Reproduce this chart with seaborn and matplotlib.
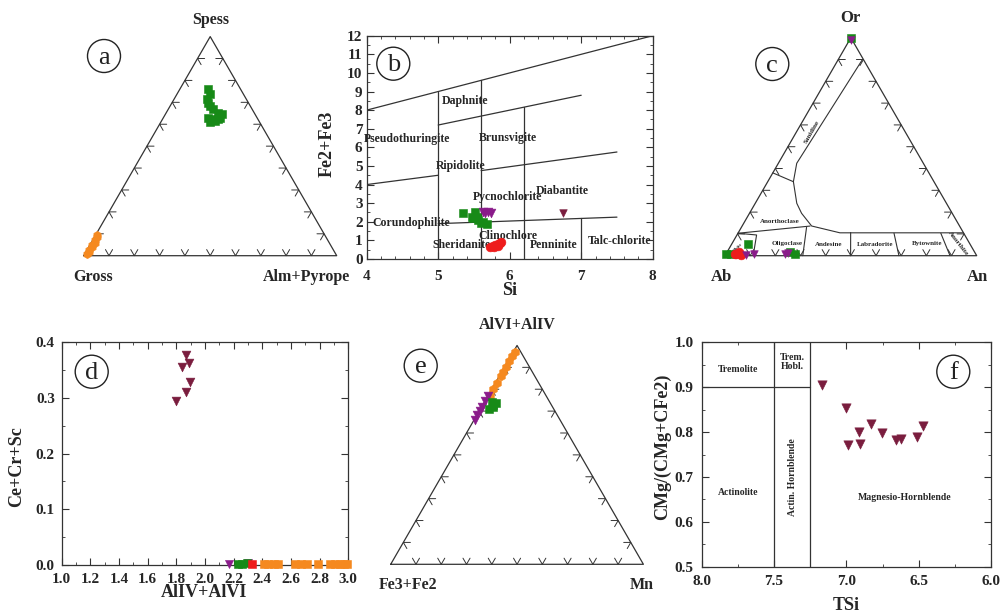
import numpy as np
import matplotlib
matplotlib.use("Agg")
import matplotlib.pyplot as plt
import seaborn as sns
from matplotlib.patches import Ellipse
from matplotlib.ticker import MultipleLocator, FormatStrFormatter

sns.set_theme(style="ticks")
plt.rcParams['font.family'] = ['Liberation Serif', 'DejaVu Serif']
plt.rcParams['font.weight'] = 'bold'
plt.rcParams['axes.edgecolor'] = '#333333'
plt.rcParams['axes.linewidth'] = 0.9

GREEN = "#178a17"
ORANGE = "#f5891f"
RED = "#ee1c1c"
PURPLE = "#8a1b8a"
MAROON = "#7a1d3e"
LINE = "#333333"

# ---------------- data ----------------
# (a) garnet: Spess (top), Alm+Pyrope (right), Gross = remainder
a_green_spess = [0.759, 0.736, 0.714, 0.698, 0.683, 0.668, 0.653, 0.645, 0.630, 0.622, 0.622, 0.610, 0.614, 0.630]
a_green_alm = [0.113, 0.131, 0.129, 0.143, 0.158, 0.178, 0.206, 0.223, 0.178, 0.201, 0.221, 0.194, 0.212, 0.224]
a_orange_spess = [0.095, 0.085, 0.072, 0.060, 0.049, 0.038, 0.026, 0.015, 0.008]
a_orange_alm = [0.004, 0.012, 0.009, 0.015, 0.008, 0.014, 0.009, 0.012, 0.010]

# (b) chlorite Si vs Fe2+Fe3
b_green_si = [5.35, 5.52, 5.49, 5.56, 5.63, 5.68, 5.54, 5.47, 5.60]
b_green_fe = [2.46, 2.54, 2.19, 2.10, 2.00, 1.88, 2.28, 2.28, 1.95]
b_purple_si = [5.62, 5.66, 5.70, 5.74]
b_purple_fe = [2.50, 2.45, 2.50, 2.45]
b_maroon_si = [6.75]
b_maroon_fe = [2.49]
b_red_si = [5.73, 5.76, 5.80, 5.83, 5.86, 5.88, 5.78, 5.84]
b_red_fe = [0.65, 0.70, 0.75, 0.80, 0.85, 0.90, 0.62, 0.70]

# (c) feldspar: Or (top), An (right), Ab = remainder
c_green_or = [1.00, 0.010, 0.010, 0.052, 0.017, 0.010]
c_green_an = [0.000, 0.000, 0.020, 0.064, 0.250, 0.275]
c_red_or = [0.010, 0.005, 0.015, 0.010]
c_red_an = [0.040, 0.060, 0.050, 0.035]
c_purple_or = [0.990, 0.005, 0.010, 0.010, 0.012]
c_purple_an = [0.005, 0.080, 0.110, 0.235, 0.245]

# (d) AlIV+AlVI vs Ce+Cr+Sc
d_maroon_x = [1.80, 1.84, 1.87, 1.89, 1.895, 1.87]
d_maroon_y = [0.295, 0.356, 0.377, 0.362, 0.329, 0.311]
d_purple_x = [2.165, 2.30]
d_purple_y = [0.001, 0.003]
d_green_x = [2.23, 2.26, 2.29]
d_green_y = [0.001, 0.001, 0.004]
d_red_x = [2.33]
d_red_y = [0.001]
d_orange_x = [2.41, 2.44, 2.48, 2.51, 2.63, 2.67, 2.71, 2.79, 2.87, 2.91, 2.94, 2.97, 2.99]
d_orange_y = [0.002] * 13

# (e) AlVI+AlIV (top), Mn (right), Fe3+Fe2 = remainder
e_orange_al = [0.97, 0.95, 0.93, 0.90, 0.88, 0.86, 0.83, 0.80, 0.77]
e_orange_mn = [0.005, 0.006, 0.005, 0.006, 0.005, 0.006, 0.005, 0.005, 0.006]
e_purple_al = [0.77, 0.745, 0.72, 0.70, 0.68, 0.66]
e_purple_mn = [0.002, 0.002, 0.003, 0.002, 0.002, 0.002]
e_green_al = [0.74, 0.73, 0.72, 0.71, 0.735]
e_green_mn = [0.030, 0.040, 0.045, 0.035, 0.050]

# (f) amphibole TSi vs CMg/(CMg+CFe2)
f_tsi = [7.166, 7.005, 6.912, 6.986, 6.905, 6.832, 6.751, 6.657, 6.620, 6.509, 6.468]
f_mg = [0.905, 0.853, 0.801, 0.771, 0.773, 0.819, 0.799, 0.782, 0.784, 0.790, 0.814]

# ---------------- helpers ----------------
W, H = 1000, 612
SQ3 = np.sqrt(3) / 2
fig = plt.figure(figsize=(10, 6.12), dpi=100)


def tern_xy(top, right):
    top = np.asarray(top, float)
    right = np.asarray(right, float)
    return right + top / 2, top * SQ3


def chev(ax, px, py, d1, d2, L):
    ax.plot([px + L * d1[0], px, px + L * d2[0]],
            [py + L * d1[1], py, py + L * d2[1]], color=LINE, lw=0.7, zorder=2)


def tri_axes(Lx, Ly, s):
    x0, x1, y0, y1 = -0.2, 1.2, -0.15, 1.0
    rect = [(Lx + x0 * s) / W, (H - Ly + y0 * s) / H, (x1 - x0) * s / W, (y1 - y0) * s / H]
    ax = fig.add_axes(rect)
    ax.set_xlim(x0, x1)
    ax.set_ylim(y0, y1)
    ax.axis('off')
    ax.plot([0, 1, 0.5, 0], [0, 0, SQ3, 0], color=LINE, lw=0.9, zorder=2)
    L = 0.028
    for f in np.arange(1, 10) / 10:
        chev(ax, f, 0, (0.5, SQ3), (-0.5, SQ3), L)
        chev(ax, 0.5 * f, SQ3 * f, (1, 0), (0.5, -SQ3), L)
        chev(ax, 1 - 0.5 * f, SQ3 * f, (-1, 0), (-0.5, -SQ3), L)
    return ax


def circ_label(cx, cy, letter, r=16.5):
    e = Ellipse((cx / W, 1 - cy / H), 2 * r / W, 2 * r / H, transform=fig.transFigure,
                fill=False, ec='#222222', lw=1.0)
    fig.add_artist(e)
    fig.text(cx / W, 1 - cy / H - 1.5 / H, letter, ha='center', va='center',
             fontsize=19, fontweight='normal', color='#222222')


def scat(ax, x, y, marker, color, s=32):
    sns.scatterplot(x=list(x), y=list(y), ax=ax, marker=marker, color=color, s=s,
                    edgecolor=color, linewidth=0.4, zorder=5, legend=False)


def style_cart(ax, xpad, ypad):
    ax.tick_params(which='both', direction='in', top=True, right=True, labelsize=11,
                   color=LINE)
    ax.tick_params(axis='x', which='both', pad=xpad)
    ax.tick_params(axis='y', which='both', pad=ypad)
    ax.tick_params(which='major', length=5, width=0.8)
    ax.tick_params(which='minor', length=2.5, width=0.6)
    plt.setp(ax.get_xticklabels() + ax.get_yticklabels(), fontweight='bold')


def place_labels(ax, xl, yl, xc, yc):
    ax.set_xlabel(xl, fontsize=13, fontweight='bold')
    ax.set_ylabel(yl, fontsize=13, fontweight='bold')
    ax.xaxis.set_label_coords(*xc)
    ax.yaxis.set_label_coords(*yc)
    ax.xaxis.label.set_verticalalignment('center')
    ax.yaxis.label.set_verticalalignment('center')


# ---------------- (a) ----------------
axa = tri_axes(83.7, 255.7, 253)
x, y = tern_xy(a_green_spess, a_green_alm)
scat(axa, x, y, 's', GREEN, 36)
x, y = tern_xy(a_orange_spess, a_orange_alm)
scat(axa, x, y, 'h', ORANGE, 36)
axa.text(0.503, 0.932, 'Spess', ha='center', va='center', fontsize=11.5)
axa.text(0.037, -0.084, 'Gross', ha='center', va='center', fontsize=11.5)
axa.text(0.879, -0.084, 'Alm+Pyrope', ha='center', va='center', fontsize=11.5)

# ---------------- (b) ----------------
axb = fig.add_axes([366.7 / W, 1 - 259 / H, 286 / W, 223.3 / H])
axb.set_xlim(4, 8)
axb.set_ylim(0, 12)
axb.xaxis.set_major_locator(MultipleLocator(1))
axb.xaxis.set_minor_locator(MultipleLocator(0.2))
axb.yaxis.set_major_locator(MultipleLocator(1))
axb.yaxis.set_minor_locator(MultipleLocator(0.5))
bl = dict(color=LINE, lw=0.9, zorder=2)
axb.plot([4, 8], [8, 12], **bl)
axb.plot([5, 7], [7.2, 8.8], **bl)
axb.plot([4, 5], [4.0, 4.5], **bl)
axb.plot([5.6, 7.5], [4.75, 5.75], **bl)
axb.plot([5, 7.5], [1.9, 2.25], **bl)
axb.plot([5, 5], [0, 9.0], **bl)
axb.plot([5.6, 5.6], [0, 9.6], **bl)
axb.plot([6.2, 6.2], [0, 8.15], **bl)
axb.plot([7, 7], [0, 2.2], **bl)
bt = dict(fontsize=8.5, ha='center', va='center', clip_on=False, zorder=3)
axb.text(5.37, 8.5, 'Daphnite', **bt)
axb.text(4.56, 6.43, 'Pseudothuringite', **bt)
axb.text(5.98, 6.49, 'Brunsvigite', **bt)
axb.text(5.31, 5.0, 'Ripidolite', **bt)
axb.text(6.73, 3.67, 'Diabantite', **bt)
axb.text(5.97, 3.35, 'Pycnochlorite', **bt)
axb.text(4.62, 1.95, 'Corundophilite', **bt)
axb.text(5.97, 1.24, 'Clinochlore', **bt)
axb.text(5.33, 0.75, 'Sheridanite', **bt)
axb.text(6.62, 0.75, 'Penninite', **bt)
axb.text(7.53, 0.97, 'Talc-chlorite', **bt)
scat(axb, b_green_si, b_green_fe, 's', GREEN, 34)
scat(axb, b_purple_si, b_purple_fe, 'v', PURPLE, 40)
scat(axb, b_maroon_si, b_maroon_fe, 'v', MAROON, 30)
scat(axb, b_red_si, b_red_fe, 'o', RED, 40)
style_cart(axb, 8, 3)
place_labels(axb, 'Si', 'Fe2+Fe3', (0.501, -0.139), (-0.139, 0.515))

# ---------------- (c) ----------------
axc = tri_axes(725, 255.7, 251.7)
c_lines = [
    ([0.898, 0.424, 0.3395, 0.2404, 0.1945, 0.1363, 0.105, 0.105],
     [0.096, 0.073, 0.102, 0.165, 0.207, 0.276, 0.404, 0.895]),
    ([0.38, 0.3395], [0.0, 0.102]),
    ([0.103, 0.136], [0.0, 0.270]),
    ([0.103, 0.095, 0.0], [0.0, 0.078, 0.112]),
    ([0.130, 0.0], [0.259, 0.309]),
    ([0.1065, 0.0], [0.446, 0.499]),
    ([0.103, 0.0], [0.620, 0.691]),
    ([0.103, 0.0], [0.806, 0.894]),
]
for o, a in c_lines:
    x, y = tern_xy(o, a)
    axc.plot(x, y, color=LINE, lw=0.8, zorder=2)
ct = dict(fontsize=5, ha='center', va='center', zorder=3)
axc.text(0.3445, 0.4927, 'Sanidine', rotation=60, **ct)
axc.text(0.2185, 0.135, 'Anorthoclase', **ct)
axc.text(0.245, 0.0493, 'Oligoclase', **ct)
axc.text(0.4104, 0.0453, 'Andesine', **ct)
axc.text(0.596, 0.0453, 'Labradorite', **ct)
axc.text(0.801, 0.0493, 'Bytownite', **ct)
axc.text(0.927, 0.049, 'Anorthite', rotation=-52, **ct)
axc.text(0.052, 0.031, 'Albite', rotation=45, fontsize=3.5, ha='center', va='center')
x, y = tern_xy(c_green_or, c_green_an)
scat(axc, x, y, 's', GREEN, 30)
x, y = tern_xy(c_red_or, c_red_an)
scat(axc, x, y, 'o', RED, 40)
x, y = tern_xy(c_purple_or, c_purple_an)
scat(axc, x, y, 'v', PURPLE, 30)
axc.text(0.497, 0.944, 'Or', ha='center', va='center', fontsize=12)
axc.text(-0.016, -0.085, 'Ab', ha='center', va='center', fontsize=12)
axc.text(1.005, -0.085, 'An', ha='center', va='center', fontsize=12)

# ---------------- (d) ----------------
axd = fig.add_axes([61.7 / W, 1 - 565 / H, 286.6 / W, 222.7 / H])
axd.set_xlim(1.0, 3.0)
axd.set_ylim(0, 0.4)
axd.xaxis.set_major_locator(MultipleLocator(0.2))
axd.xaxis.set_minor_locator(MultipleLocator(0.1))
axd.yaxis.set_major_locator(MultipleLocator(0.1))
axd.yaxis.set_minor_locator(MultipleLocator(0.05))
axd.xaxis.set_major_formatter(FormatStrFormatter('%.1f'))
axd.yaxis.set_major_formatter(FormatStrFormatter('%.1f'))
scat(axd, d_maroon_x, d_maroon_y, 'v', MAROON, 40)
scat(axd, d_purple_x, d_purple_y, 'v', PURPLE, 34)
scat(axd, d_green_x, d_green_y, 's', GREEN, 40)
scat(axd, d_red_x, d_red_y, 's', RED, 34)
scat(axd, d_orange_x, d_orange_y, 's', ORANGE, 34)
for c in axd.collections:
    c.set_clip_on(False)
style_cart(axd, 5.5, 5)
place_labels(axd, 'AlIV+AlVI', 'Ce+Cr+Sc', (0.4965, -0.124), (-0.156, 0.441))

# ---------------- (e) ----------------
axe = tri_axes(390.7, 564.3, 252.7)
x, y = tern_xy(e_orange_al, e_orange_mn)
scat(axe, x, y, 'h', ORANGE, 40)
x, y = tern_xy(e_purple_al, e_purple_mn)
scat(axe, x, y, 'v', PURPLE, 40)
x, y = tern_xy(e_green_al, e_green_mn)
scat(axe, x, y, 's', GREEN, 40)
axe.text(0.499, 0.947, 'AlVI+AlIV', ha='center', va='center', fontsize=11.5)
axe.text(0.07, -0.082, 'Fe3+Fe2', ha='center', va='center', fontsize=11.5)
axe.text(0.993, -0.082, 'Mn', ha='center', va='center', fontsize=11.5)

# ---------------- (f) ----------------
axf = fig.add_axes([701.7 / W, 1 - 566.7 / H, 289.3 / W, 224.4 / H])
axf.set_xlim(8.0, 6.0)
axf.set_ylim(0.5, 1.0)
axf.xaxis.set_major_locator(MultipleLocator(0.5))
axf.xaxis.set_minor_locator(MultipleLocator(0.25))
axf.yaxis.set_major_locator(MultipleLocator(0.1))
axf.yaxis.set_minor_locator(MultipleLocator(0.05))
axf.xaxis.set_major_formatter(FormatStrFormatter('%.1f'))
axf.yaxis.set_major_formatter(FormatStrFormatter('%.1f'))
axf.plot([8.0, 7.25], [0.9, 0.9], color=LINE, lw=0.9)
axf.plot([7.5, 7.5], [0.5, 1.0], color=LINE, lw=0.9)
axf.plot([7.25, 7.25], [0.5, 1.0], color=LINE, lw=0.9)
ft = dict(fontsize=7, ha='center', va='center')
axf.text(7.75, 0.94, 'Tremolite', **ft)
axf.text(7.375, 0.955, 'Trem.\nHobl.', linespacing=1.0, **ft)
axf.text(7.75, 0.665, 'Actinolite', **ft)
axf.text(7.375, 0.70, 'Actin. Hornblende', rotation=90, **ft)
axf.text(6.6, 0.655, 'Magnesio-Hornblende', **ft)
scat(axf, f_tsi, f_mg, 'v', MAROON, 45)
style_cart(axf, 6, 6)
place_labels(axf, 'TSi', 'CMg/(CMg+CFe2)', (0.501, -0.171), (-0.135, 0.533))

# circle labels
circ_label(104, 56, 'a')
circ_label(393.3, 63.7, 'b')
circ_label(772.3, 64, 'c')
circ_label(91.7, 371.7, 'd')
circ_label(420.7, 365.7, 'e')
circ_label(953.3, 371.7, 'f')

fig.savefig('out.png', dpi=100)
